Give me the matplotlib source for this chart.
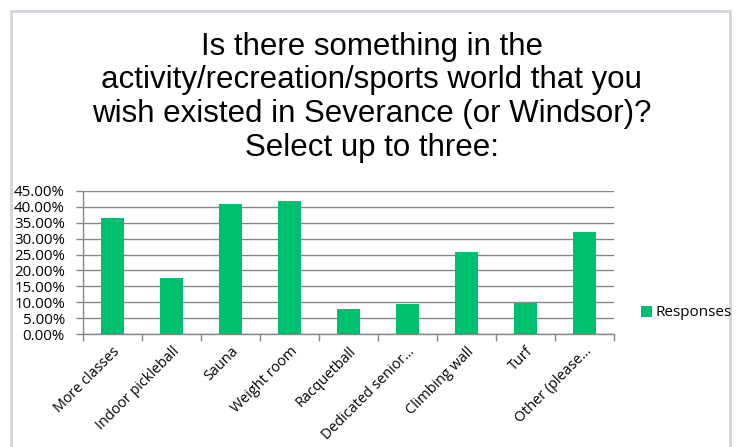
import matplotlib.pyplot as plt
import matplotlib.patches as mpatches
import matplotlib.transforms as mtransforms
from matplotlib.ticker import FuncFormatter, FixedLocator

# Survey data
categories = ['More classes', 'Indoor pickleball', 'Sauna', 'Weight room',
              'Racquetball', 'Dedicated senior\u2026', 'Climbing wall', 'Turf',
              'Other (please\u2026']
responses = [36.5, 17.5, 40.7, 41.7, 7.9, 9.6, 25.8, 9.7, 32.1]
series_name = 'Responses'
title = ('Is there something in the\n'
         'activity/recreation/sports world that you\n'
         'wish existed in Severance (or Windsor)?\n'
         'Select up to three:')

green = '#00BF6F'
grid_gray = '#868686'
tick_font = 'Open Sans'

fig = plt.figure(figsize=(7.39, 4.47), dpi=100)
ax = fig.add_axes([0.1123, 0.2521, 0.7186, 0.3213])

x = list(range(len(categories)))
ax.bar(x, responses, width=0.4, color=green, label=series_name, zorder=3)

ax.set_xlim(-0.5, len(categories) - 0.5)
ax.set_ylim(0, 45)
ax.set_yticks([i * 5 for i in range(10)])
ax.yaxis.set_major_formatter(FuncFormatter(lambda v, p: f'{v:.2f}%'))
ax.grid(axis='y', color=grid_gray, linewidth=1, zorder=0)

ax.set_xticks(x)
ax.set_xticklabels(categories, rotation=45, ha='right', rotation_mode='anchor',
                   fontsize=10.4, family=tick_font)
# nudge the rotated labels a bit to the right, like Excel does
shift = mtransforms.ScaledTranslation(7 / 100, 0, fig.dpi_scale_trans)
for lab in ax.get_xticklabels():
    lab.set_transform(lab.get_transform() + shift)
ax.xaxis.set_minor_locator(FixedLocator([i - 0.5 for i in range(len(categories) + 1)]))
ax.tick_params(axis='x', which='major', length=0, pad=7)
ax.tick_params(axis='x', which='minor', length=5, color=grid_gray, width=1)
ax.tick_params(axis='y', length=5, color=grid_gray, width=1, pad=8,
               labelsize=10.8)
for lab in ax.get_yticklabels():
    lab.set_family(tick_font)

for side in ['top', 'right']:
    ax.spines[side].set_visible(False)
for side in ['left', 'bottom']:
    ax.spines[side].set_color(grid_gray)
    ax.spines[side].set_linewidth(1)

fig.text(0.503, 0.782, title, ha='center', va='center', fontsize=22.5,
         family='Liberation Sans', linespacing=1.17)

fig.legend(loc='center left', bbox_to_anchor=(0.868, 1 - 313 / 447),
           frameon=False, handlelength=0.7, handleheight=0.7,
           handletextpad=0.25, borderpad=0, borderaxespad=0,
           prop={'family': tick_font, 'size': 11})

# chart frame
frame = mpatches.Rectangle((11 / 739, -0.1), 719 / 739, 1 - 11 / 447 + 0.1,
                           transform=fig.transFigure, fill=False,
                           edgecolor='#d4d4da', linewidth=2)
fig.patches.append(frame)

fig.savefig('out.png', dpi=100)
